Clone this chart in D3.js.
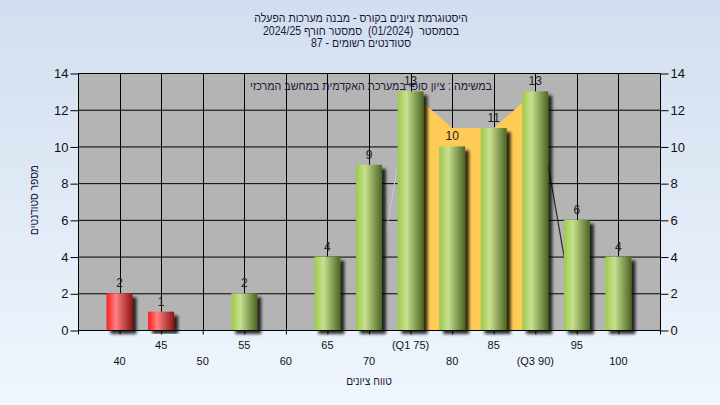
<!DOCTYPE html>
<html><head><meta charset="utf-8">
<script src="https://cdn.jsdelivr.net/npm/d3@7"></script>
<style>
html,body{margin:0;padding:0;background:#fff;}
svg text{font-family:"Liberation Sans","DejaVu Sans",Arial,sans-serif;}
</style></head>
<body>
<svg id="chart" width="720" height="405"></svg>
<script>
// ---- data ----
const categories = [40,45,50,55,60,65,70,75,80,85,90,95,100];
const counts = [2,1,0,2,0,4,9,13,10,11,13,6,4];
const failing = [true,true,false,false,false,false,false,false,false,false,false,false,false];
const tickLabels = ["40","45","50","55","60","65","70","(Q1 75)","80","85","(Q3 90)","95","100"];
const iqrCats = [75,80,85,90];
const iqrValues = [13,11,11,13];
const edgeLeft = [[70,0],[75,13]];
const edgeRight = [[90,13],[95,0]];
const yTicks = [0,2,4,6,8,10,12,14];
const titleLines = ["היסטוגרמת ציונים בקורס - מבנה מערכות הפעלה","בסמסטר  (01/2024)  סמסטר חורף 2024/25","סטודנטים רשומים - 87"];
const subTitle = "במשימה : ציון סופי במערכת האקדמית במחשב המרכזי";
const xTitle = "טווח ציונים";
const yTitle = "מספר סטודנטים";

// ---- layout ----
const svg = d3.select("#chart");
const L=78, R=660, T=73, B=330;
const x = d3.scaleLinear().domain([35,105]).range([L,R]);
const y = d3.scaleLinear().domain([0,14]).range([B,T]);
const barW = 26;

const defs = svg.append("defs");
const bg = defs.append("linearGradient").attr("id","bg").attr("x1",0).attr("y1",0).attr("x2",0).attr("y2",1);
bg.append("stop").attr("offset","0%").attr("stop-color","#d2deef");
bg.append("stop").attr("offset","100%").attr("stop-color","#eff6fd");
const gG = defs.append("linearGradient").attr("id","gGreen");
[["0%","#9dca4a"],["35%","#c8e090"],["100%","#4b6520"]].forEach(s=>gG.append("stop").attr("offset",s[0]).attr("stop-color",s[1]));
const gR = defs.append("linearGradient").attr("id","gRed");
[["0%","#ff1c1c"],["35%","#ff8080"],["100%","#8f1414"]].forEach(s=>gR.append("stop").attr("offset",s[0]).attr("stop-color",s[1]));
const f = defs.append("filter").attr("id","sh").attr("x","-30%").attr("y","-10%").attr("width","180%").attr("height","130%");
f.append("feGaussianBlur").attr("in","SourceAlpha").attr("stdDeviation",1.6).attr("result","b");
f.append("feOffset").attr("in","b").attr("dx",4).attr("dy",4).attr("result","o");
f.append("feComponentTransfer").attr("in","o").attr("result","oa").append("feFuncA").attr("type","linear").attr("slope",0.8);
const fm = f.append("feMerge"); fm.append("feMergeNode").attr("in","oa"); fm.append("feMergeNode").attr("in","SourceGraphic");

svg.append("rect").attr("width",720).attr("height",405).attr("fill","url(#bg)");
svg.append("rect").attr("x",L).attr("y",T).attr("width",R-L).attr("height",B-T).attr("fill","#b4b4b4");

// grid
svg.append("g").selectAll("line.h").data(yTicks).join("line")
  .attr("x1",L).attr("x2",R).attr("y1",d=>y(d)+0.5).attr("y2",d=>y(d)+0.5)
  .attr("stroke","#000").attr("stroke-width",1);
svg.append("g").selectAll("line.v").data(categories).join("line")
  .attr("x1",d=>Math.round(x(d))+0.5).attr("x2",d=>Math.round(x(d))+0.5).attr("y1",T).attr("y2",B)
  .attr("stroke","#000").attr("stroke-width",1);

// IQR area
const area = d3.area().x((d,i)=>x(iqrCats[i])).y0(y(0)).y1(d=>y(d));
svg.append("path").datum(iqrValues).attr("d",area).attr("fill","#ffcb57");
const ln = d3.line().x(d=>x(d[0])).y(d=>y(d[1]));
svg.append("path").datum(edgeLeft).attr("d",ln).attr("stroke","#c9c9c9").attr("stroke-width",1).attr("fill","none");
svg.append("path").datum(edgeRight).attr("d",ln).attr("stroke","#2a2a2a").attr("stroke-width",1.2).attr("fill","none");

// bars
const bars = categories.map((c,i)=>({c, v:counts[i], fail:failing[i], lab:tickLabels[i], i}));
svg.append("g").selectAll("rect").data(bars.filter(d=>d.v>0)).join("rect")
  .attr("x",d=>x(d.c)-barW/2).attr("width",barW)
  .attr("y",d=>y(d.v)).attr("height",d=>y(0)-y(d.v))
  .attr("fill",d=>d.fail?"url(#gRed)":"url(#gGreen)")
  .attr("filter","url(#sh)");

// axes
const axL = d3.axisLeft(y).tickValues(yTicks).tickSize(8).tickPadding(2).tickFormat(d3.format("d"));
const gl = svg.append("g").attr("transform",`translate(${L+0.5},0.5)`).call(axL);
const axR = d3.axisRight(y).tickValues(yTicks).tickSize(8).tickPadding(2).tickFormat(d3.format("d"));
const gr = svg.append("g").attr("transform",`translate(${R+0.5},0.5)`).call(axR);
const axB = d3.axisBottom(x).tickValues(categories).tickSize(4).tickFormat("");
const gb = svg.append("g").attr("transform",`translate(0,${B+0.5})`).call(axB);
[gl,gr,gb].forEach(g=>{
  g.select(".domain").attr("stroke","#000");
  g.selectAll(".tick line").attr("stroke","#000");
  g.selectAll(".tick text").attr("fill","#111").style("font-size","13px").style("font-family","'Liberation Sans',Arial,sans-serif");
});
gl.select(".domain").attr("d",`M0,${T}V${B+4}`);
gr.select(".domain").attr("d",`M0,${T}V${B+4}`);
gb.select(".domain").attr("d",`M${L},0H${R}`);

// x tick labels, two rows
svg.append("g").selectAll("text").data(bars).join("text")
  .attr("x",d=>x(d.c)).attr("y",d=>d.i%2===1?349:365)
  .attr("text-anchor","middle").attr("fill","#111").style("font-size","11px")
  .text(d=>d.lab);

// bar value labels
svg.append("g").selectAll("text").data(bars.filter(d=>d.v>0)).join("text")
  .attr("x",d=>x(d.c)).attr("y",d=>y(d.v)-6)
  .attr("text-anchor","middle").attr("fill","#222").style("font-size","12px")
  .text(d=>d.v);

// Hebrew texts (narrowed to match the reference's compact Hebrew face)
function narrow(sel, k){
  sel.each(function(){ const w=this.getComputedTextLength(); d3.select(this).attr("textLength",w*k).attr("lengthAdjust","spacingAndGlyphs"); });
}
const tl = svg.append("g").selectAll("text").data(titleLines).join("text")
  .attr("x",361).attr("y",(d,i)=>22+i*12.5).attr("text-anchor","middle")
  .attr("direction","rtl").style("white-space","pre")
  .attr("fill","#1a1a3a").style("font-size","12px").text(d=>d);
narrow(tl,0.88);
const st = svg.append("text").attr("x",(L+R)/2+2).attr("y",90).attr("text-anchor","middle")
  .attr("direction","rtl").attr("fill","#1a1a3a").style("font-size","12px").text(subTitle);
narrow(st,0.89);
const xt = svg.append("text").attr("x",(L+R)/2).attr("y",385).attr("text-anchor","middle")
  .attr("direction","rtl").attr("fill","#1a1a3a").style("font-size","12px").text(xTitle);
narrow(xt,0.85);
const yt = svg.append("text").attr("transform","translate(38,200) rotate(-90)").attr("text-anchor","middle")
  .attr("direction","rtl").attr("fill","#1a1a3a").style("font-size","12px").text(yTitle);
narrow(yt,0.85);
</script>
</body></html>
